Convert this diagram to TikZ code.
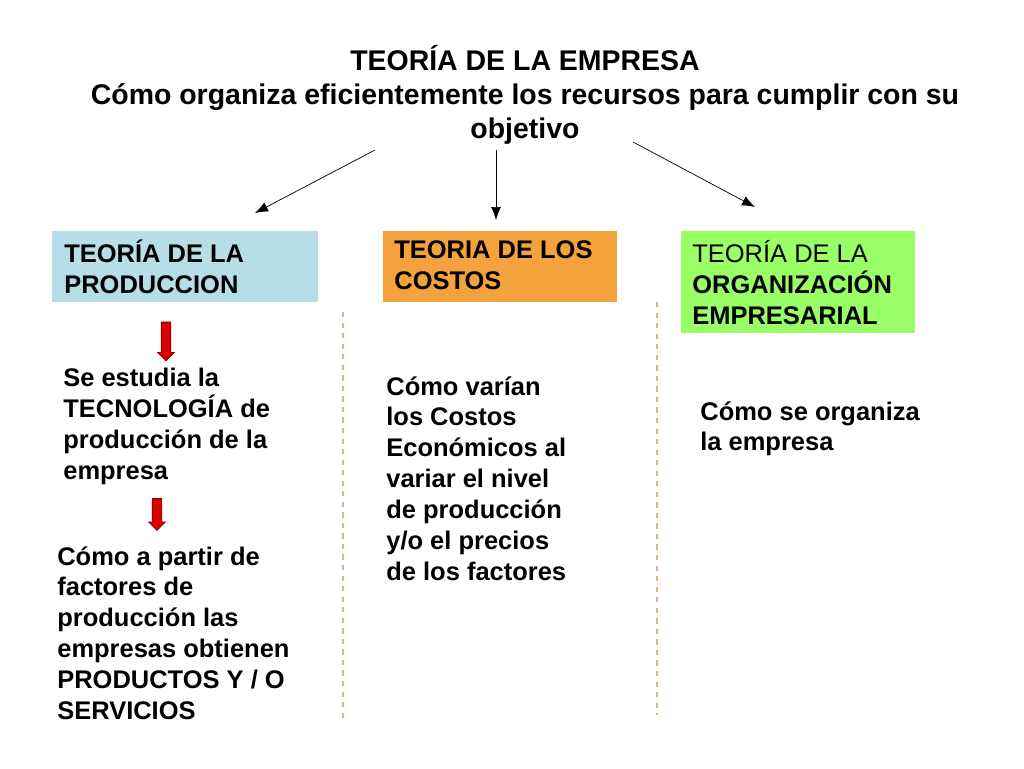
\documentclass[tikz,border=0pt]{standalone}
\usepackage{fontspec}
\setmainfont{Liberation Sans}
\usetikzlibrary{shapes.arrows}
\definecolor{prodblue}{HTML}{B7DDE8}
\definecolor{costorange}{HTML}{F4A23C}
\definecolor{orggreen}{HTML}{99FF66}
\definecolor{sepline}{HTML}{D9B48A}
\tikzset{
  txt/.style={anchor=north west, align=left, inner sep=0pt, font=\fontsize{14.5}{17.6}\selectfont\bfseries},
  boxtxt/.style={anchor=north west, align=left, inner sep=0pt, font=\fontsize{14.5}{17.6}\selectfont\bfseries},
  redarrow/.style={single arrow, shape border rotate=270, fill=red!85!black, draw=red!50!black, minimum height=#1, inner sep=0.09cm, single arrow head extend=0.07cm},
  sep/.style={sepline, dashed, thick},
  branch/.style={-{Latex[length=2.6mm,width=2mm]}},
}
\usetikzlibrary{arrows.meta}
\begin{document}
\begin{tikzpicture}[x=0.02cm, y=-0.02cm]
  \useasboundingbox (0,0) rectangle (1024,768);
  % Title
  \node[align=center, font=\fontsize{16.2}{19.2}\selectfont\bfseries, inner sep=0pt] (title) at (525,95)
    {TEORÍA DE LA EMPRESA\\Cómo organiza eficientemente los recursos para cumplir con su\\objetivo};
  % Branches
  \coordinate (s1) at (375,150);
  \coordinate (s2) at (496,150);
  \coordinate (s3) at (633,142);
  \coordinate (e1) at (255,213);
  \coordinate (e2) at (496,220);
  \coordinate (e3) at (755,207);
  \draw[branch] (s1) -- (e1);
  \draw[branch] (s2) -- (e2);
  \draw[branch] (s3) -- (e3);
  % Boxes
  \fill[prodblue] (52,231) rectangle (318,302);
  \fill[costorange] (383,231) rectangle (617,302);
  \fill[orggreen] (681,231) rectangle (915,333);
  \node[boxtxt] (prod) at (64,240) {TEORÍA DE LA\\PRODUCCION};
  \node[boxtxt] (costos) at (394,240) {TEORIA DE LOS\\COSTOS};
  \node[boxtxt] (org) at (692,240) {\mdseries TEORÍA DE LA\\ORGANIZACIÓN\\EMPRESARIAL};
  % Separators
  \coordinate (d1a) at (343,312); \coordinate (d1b) at (343,722);
  \coordinate (d2a) at (657,302); \coordinate (d2b) at (657,715);
  \draw[sep] (d1a) -- (d1b);
  \draw[sep] (d2a) -- (d2b);
  % Production column
  \node[redarrow=0.78cm] (arr1) at (166,339) {};
  \node[txt] (tec) at (63,368) {Se estudia la\\TECNOLOGÍA de\\producción de la\\empresa};
  \node[redarrow=0.64cm] (arr2) at (157,512) {};
  \node[txt] (fac) at (57,546) {Cómo a partir de\\factores de\\producción las\\empresas obtienen\\PRODUCTOS Y / O\\SERVICIOS};
  % Cost column
  \node[txt] (var) at (386,376) {Cómo varían\\los Costos\\Económicos al\\variar el nivel\\de producción\\y/o el precios\\de los factores};
  % Organization column
  \node[txt] (orgtxt) at (700,401) {Cómo se organiza\\la empresa};
\end{tikzpicture}
\end{document}
